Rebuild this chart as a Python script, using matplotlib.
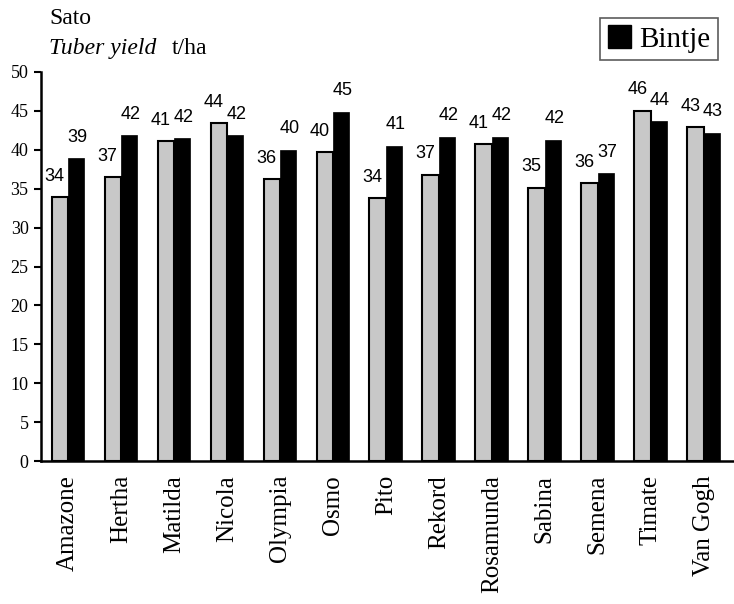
import matplotlib
matplotlib.use("Agg")
import matplotlib.pyplot as plt
import numpy as np
from matplotlib.patches import Patch

varieties = ["Amazone", "Hertha", "Matilda", "Nicola", "Olympia", "Osmo", "Pito",
             "Rekord", "Rosamunda", "Sabina", "Semena", "Timate", "Van Gogh"]
sato = [33.9, 36.5, 41.1, 43.4, 36.2, 39.7, 33.8, 36.8, 40.7, 35.1, 35.7, 45.0, 42.9]
bintje = [38.9, 41.9, 41.5, 41.9, 40.0, 44.9, 40.5, 41.7, 41.7, 41.3, 37.0, 43.7, 42.2]
sato_labels = ["34", "37", "41", "44", "36", "40", "34", "37", "41", "35", "36", "46", "43"]
bintje_labels = ["39", "42", "42", "42", "40", "45", "41", "42", "42", "42", "37", "44", "43"]
yticks = [0, 5, 10, 15, 20, 25, 30, 35, 40, 45, 50]

serif = "Liberation Serif"
sans = "Liberation Sans"

fig = plt.figure(figsize=(7.34, 6.04), dpi=100)
ax = fig.add_axes([41/734, 1-461/604, 1-41/734, (461-72)/604])

x = np.arange(len(varieties))
w = 0.31
ax.bar(x - w/2, sato, width=w, color="#c8c8c8", edgecolor="black", linewidth=1.5)
ax.bar(x + w/2, bintje, width=w, color="black", edgecolor="black", linewidth=0.5)

for xi, v, lab in zip(x, sato, sato_labels):
    ax.text(xi - w/2 - 0.1, v + 1.6, lab, ha="center", va="bottom", fontsize=13, family=sans)
for xi, v, lab in zip(x, bintje, bintje_labels):
    ax.text(xi + w/2 + 0.02, v + 1.6, lab, ha="center", va="bottom", fontsize=13, family=sans)

ax.set_xlim(-0.51, 12.57)
ax.set_ylim(0, 50)
ax.set_yticks(yticks)
ax.set_yticklabels([str(t) for t in yticks], family=serif, fontsize=13)
ax.set_xticks(x)
ax.set_xticklabels(varieties, rotation=90, family=serif, fontsize=18)
ax.tick_params(axis="x", length=0, pad=10)
ax.tick_params(axis="y", length=5, width=1.5, direction="out", pad=4)
for s in ["top", "right"]:
    ax.spines[s].set_visible(False)
ax.spines["left"].set_linewidth(1.8)
ax.spines["bottom"].set_linewidth(1.8)

fig.text(49/734, 1-24/604, "Sato", family=serif, fontsize=17, va="baseline")
fig.text(49/734, 1-54/604, "Tuber yield", family=serif, fontsize=17, style="italic", va="baseline")
fig.text(172/734, 1-54/604, "t/ha", family=serif, fontsize=17, va="baseline")

leg = fig.legend(handles=[Patch(facecolor="black", edgecolor="black")], labels=["Bintje"],
                 loc="upper right", bbox_to_anchor=(718/734, 1-18/604),
                 prop={"family": serif, "size": 21}, frameon=True, fancybox=False,
                 handlelength=0.8, handleheight=0.8, handletextpad=0.3,
                 borderpad=0.25, borderaxespad=0)
leg.get_frame().set_edgecolor("#333333")
leg.get_frame().set_linewidth(1.2)

fig.savefig("out.png", dpi=100)
